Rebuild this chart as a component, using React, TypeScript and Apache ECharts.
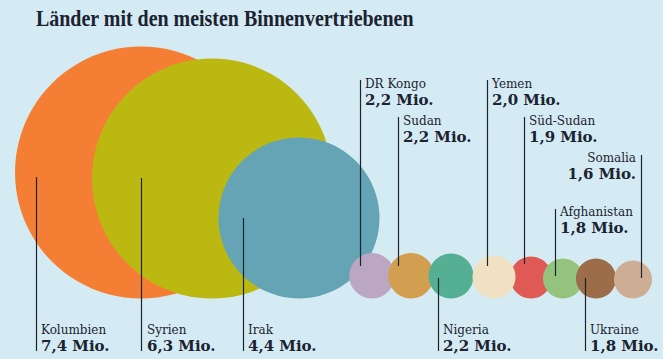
import React, { useEffect, useRef } from "react";
import * as echarts from "echarts";

// ---- data ----
const countries = ["Kolumbien", "Syrien", "Irak", "DR Kongo", "Sudan", "Nigeria", "Yemen", "Süd-Sudan", "Afghanistan", "Ukraine", "Somalia"];
const valuesMio = [7.4, 6.3, 4.4, 2.2, 2.2, 2.2, 2.0, 1.9, 1.8, 1.8, 1.6];
const unitLabel = "Mio.";
const titleText = "Länder mit den meisten Binnenvertriebenen";

// ---- layout (units of the hidden 663 x 359 axes) ----
const W = 663;
const H = 359;
const BASELINE = 298.5;
const centerX = [141, 212, 299, 372, 411, 451, 494, 531, 563, 596, 633];
const radius = [126, 120, 80.5, 22.7, 22.8, 22.5, 21.5, 21, 20, 20, 19];
const drawOrder = [0, 1, 2, 3, 4, 5, 7, 6, 8, 9, 10];
const colors = ["#f47f34", "#bcb812", "#64a4b5", "#bba7c3", "#d19f4f", "#55b093", "#f1e1c3", "#df5a54", "#94c37e", "#9c6d48", "#cdae94"];
const leaderX = [35.5, 140.5, 242.5, 359.5, 398, 437.5, 487, 523.5, 554.5, 584.5, 640.5];
const leaderTop = [177, 178, 218, 80, 117, 278, 80, 117, 209, 278, 155];
const leaderBottom = [351, 351, 351, 266, 266, 351, 266, 264, 276, 351, 278];
const labelX = [41, 147, 248, 365, 403, 443, 492, 529, 560, 590, 636];
const labelBaseline = [351, 351, 351, 105, 142, 351, 105, 142, 233, 351, 179];
const labelAlign = ["left", "left", "left", "left", "left", "left", "left", "left", "left", "left", "right"];

const BG = "#d5ebf3";
const INK = "#1b2230";
const NAME_FONT_SIZE = 12;
const VALUE_FONT_SIZE = 15;
const NAME_GAP = 16.8;
const nameFont = `${NAME_FONT_SIZE}px "DejaVu Serif"`;
const valueFont = `bold ${VALUE_FONT_SIZE}px "DejaVu Serif"`;
const TITLE_SIZE = 23;
const titleFont = `bold ${TITLE_SIZE}px "Liberation Serif"`;
const TITLE_X = 36;
const TITLE_BASELINE = 26;
const TITLE_WIDTH = 378;

function measure(text: string, font: string): number {
  const ctx = document.createElement("canvas").getContext("2d");
  if (!ctx) return TITLE_WIDTH;
  ctx.font = font;
  return ctx.measureText(text).width;
}

function fmt(v: number): string {
  return v.toFixed(1).replace(".", ",") + " " + unitLabel;
}

export default function App() {
  const ref = useRef<HTMLDivElement>(null);
  useEffect(() => {
    document.body.style.margin = "0";
    if (!ref.current) return;
    const chart = echarts.init(ref.current, undefined, { renderer: "svg" });
    const data = drawOrder.map((i) => [i, valuesMio[i]]);
    const titleScale = TITLE_WIDTH / measure(titleText, titleFont);

    chart.setOption({
      animation: false,
      backgroundColor: BG,
      grid: { left: 0, right: 0, top: 0, bottom: 0, containLabel: false },
      xAxis: { type: "value", min: 0, max: W, show: false },
      yAxis: { type: "value", min: 0, max: H, inverse: true, show: false },
      graphic: [
        {
          type: "text",
          x: TITLE_X,
          y: TITLE_BASELINE - 0.3375 * TITLE_SIZE,
          scaleX: titleScale,
          style: { text: titleText, font: titleFont, fill: INK, align: "left", verticalAlign: "middle" },
        },
      ],
      series: [
        {
          type: "custom",
          clip: false,
          data,
          renderItem: (params: any, api: any) => {
            const i = api.value(0);
            const c = api.coord([centerX[i], BASELINE - radius[i]]);
            const r = api.size([radius[i], 0])[0];
            return {
              type: "circle",
              shape: { cx: c[0], cy: c[1], r },
              style: { fill: colors[i] },
            };
          },
        },
        {
          type: "custom",
          clip: false,
          data,
          renderItem: (params: any, api: any) => {
            const i = api.value(0);
            const v = api.value(1);
            const p1 = api.coord([leaderX[i], leaderTop[i]]);
            const p2 = api.coord([leaderX[i], leaderBottom[i]]);
            const lb = api.coord([labelX[i], labelBaseline[i]]);
            const align = labelAlign[i];
            return {
              type: "group",
              children: [
                {
                  type: "line",
                  shape: { x1: Math.round(p1[0]) + 0.5, y1: p1[1], x2: Math.round(p2[0]) + 0.5, y2: p2[1] },
                  style: { stroke: INK, lineWidth: 1.2 },
                },
                {
                  type: "text",
                  style: {
                    text: countries[i],
                    x: lb[0],
                    y: lb[1] - NAME_GAP - NAME_FONT_SIZE * 0.346,
                    font: nameFont,
                    fill: INK,
                    align,
                    verticalAlign: "middle",
                  },
                },
                {
                  type: "text",
                  style: {
                    text: fmt(v),
                    x: lb[0],
                    y: lb[1] - VALUE_FONT_SIZE * 0.346,
                    font: valueFont,
                    fill: INK,
                    align,
                    verticalAlign: "middle",
                  },
                },
              ],
            };
          },
        },
      ],
    });
    return () => chart.dispose();
  }, []);
  return <div ref={ref} style={{ width: W, height: H }} />;
}
